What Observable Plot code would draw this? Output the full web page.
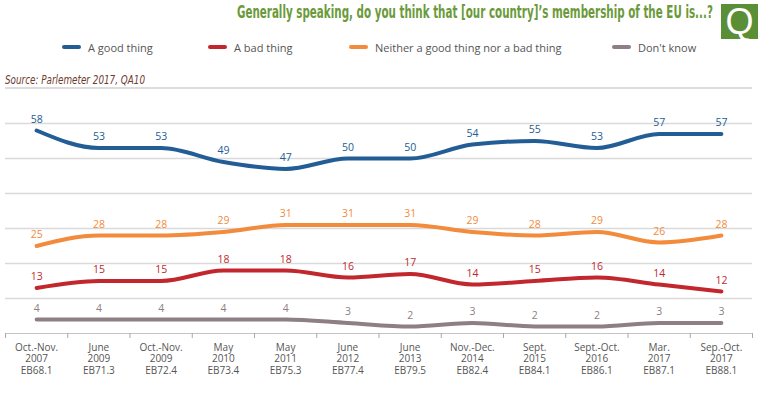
<!DOCTYPE html>
<html>
<head>
<meta charset="utf-8">
<script src="https://cdn.jsdelivr.net/npm/d3@7"></script>
<script src="https://cdn.jsdelivr.net/npm/@observablehq/plot@0.6"></script>
<style>
  html, body { margin: 0; padding: 0; background: #fff; }
  #wrap { position: relative; width: 774px; height: 395px; overflow: hidden; font-family: "Open Sans", sans-serif; }
  #title { position: absolute; right: 61px; top: 2px; white-space: nowrap; font-family: "Liberation Sans Narrow", "DejaVu Sans Condensed", sans-serif; font-weight: bold; font-size: 17px; color: #6a9a3a; transform-origin: right center; }
  #qbox { position: absolute; left: 721px; top: 4px; width: 37px; height: 35px; background: #5b8f35; color: #fff; font-family: "Liberation Sans", sans-serif; font-size: 36px; line-height: 35px; text-align: center; }
  .leg { position: absolute; top: 39px; height: 16px; display: flex; align-items: center; font-size: 11px; color: #555; white-space: nowrap; }
  .sw { width: 19px; height: 4px; border-radius: 2px; margin-right: 7px; }
  #source { position: absolute; left: 5px; top: 72px; font-family: "Liberation Sans Narrow", "DejaVu Sans Condensed", sans-serif; font-style: italic; font-size: 12.5px; color: #6e3b2e; white-space: nowrap; transform-origin: left center; }
  #sep { position: absolute; left: 5px; top: 87px; width: 747px; height: 2px; background: #dcdcdc; }
  #chart { position: absolute; left: 0; top: 90px; }
</style>
</head>
<body>
<div id="wrap">
  <div id="title"></div>
  <div id="qbox">Q</div>
  <div id="legend"></div>
  <div id="source"></div>
  <div id="sep"></div>
  <div id="chart"></div>
</div>
<script>
const titleText = "Generally speaking, do you think that [our country]\u2019s membership of the EU is...?";
const sourceText = "Source: Parlemeter 2017, QA10";

const categories = [
  "Oct.-Nov.\n2007\nEB68.1",
  "June\n2009\nEB71.3",
  "Oct.-Nov.\n2009\nEB72.4",
  "May\n2010\nEB73.4",
  "May\n2011\nEB75.3",
  "June\n2012\nEB77.4",
  "June\n2013\nEB79.5",
  "Nov.-Dec.\n2014\nEB82.4",
  "Sept.\n2015\nEB84.1",
  "Sept.-Oct.\n2016\nEB86.1",
  "Mar.\n2017\nEB87.1",
  "Sep.-Oct.\n2017\nEB88.1"
];

const seriesNames = ["A good thing", "A bad thing", "Neither a good thing nor a bad thing", "Don't know"];
const seriesColors = ["#225d96", "#c1272d", "#f28b3b", "#8d7f83"];

const goodThing = [58, 53, 53, 49, 47, 50, 50, 54, 55, 53, 57, 57];
const badThing = [13, 15, 15, 18, 18, 16, 17, 14, 15, 16, 14, 12];
const neitherThing = [25, 28, 28, 29, 31, 31, 31, 29, 28, 29, 26, 28];
const dontKnow = [4, 4, 4, 4, 4, 3, 2, 3, 2, 2, 3, 3];

const gridValues = [10, 20, 30, 40, 50, 60];

// Header texts
const titleEl = document.getElementById("title");
titleEl.textContent = titleText;
const tw = titleEl.getBoundingClientRect().width;
titleEl.style.transform = `scaleX(${476 / tw})`;

const srcEl = document.getElementById("source");
srcEl.textContent = sourceText;
const sw = srcEl.getBoundingClientRect().width;
srcEl.style.transform = `scaleX(${140 / sw})`;

// Legend
const legendLefts = [62, 208, 349, 612];
const legend = document.getElementById("legend");
seriesNames.forEach((name, i) => {
  const item = document.createElement("div");
  item.className = "leg";
  item.style.left = legendLefts[i] + "px";
  const s = document.createElement("div");
  s.className = "sw";
  s.style.background = seriesColors[i];
  item.appendChild(s);
  const t = document.createElement("span");
  t.textContent = name;
  item.appendChild(t);
  legend.appendChild(item);
});

// Data table
const allSeries = [goodThing, badThing, neitherThing, dontKnow];
const data = [];
allSeries.forEach((vals, s) => {
  vals.forEach((v, i) => data.push({ series: seriesNames[s], idx: i, value: v }));
});

const boundaries = d3.range(categories.length + 1).map(i => i - 0.5);

const chart = Plot.plot({
  width: 774,
  height: 305,
  marginLeft: 5,
  marginRight: 22,
  marginTop: 33,
  marginBottom: 62,
  style: { fontFamily: "Open Sans, sans-serif", background: "transparent" },
  x: { type: "linear", domain: [-0.5, categories.length - 0.5], axis: null, label: null },
  y: { domain: [0, 60], axis: null, label: null },
  color: { domain: seriesNames, range: seriesColors },
  marks: [
    Plot.gridY(gridValues, { stroke: "#dadada", strokeOpacity: 1, strokeWidth: 1.5 }),
    Plot.ruleY([0], { stroke: "#c4c4c4", strokeWidth: 1.2 }),
    Plot.axisX({ ticks: boundaries, tickSize: 5, tickFormat: () => "", stroke: "#a8a8a8", label: null }),
    Plot.axisX({ ticks: d3.range(categories.length), tickSize: 0, tickPadding: 9, tickFormat: i => categories[i], fontSize: 10, lineHeight: 1.15, fill: "#555", label: null }),
    Plot.lineY(data, { x: "idx", y: "value", z: "series", stroke: "series", strokeWidth: 4, strokeLinecap: "round", strokeLinejoin: "round", curve: "monotone-x" }),
    Plot.text(data, { x: "idx", y: "value", text: d => String(d.value), fill: "series", dy: -11, fontSize: 10.5, fontWeight: d => d.series === "A bad thing" ? 600 : 400 })
  ]
});
document.getElementById("chart").appendChild(chart);
</script>
</body>
</html>
